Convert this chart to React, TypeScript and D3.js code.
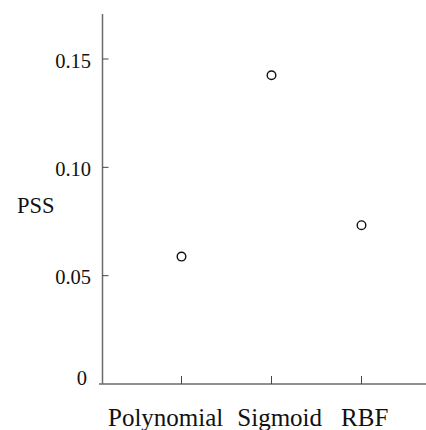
import React from 'react';
import * as d3 from 'd3';

const categories = ['Polynomial', 'Sigmoid', 'RBF'];
const pssValues = [0.0588, 0.1425, 0.0733];
const yTicks = [0, 0.05, 0.1, 0.15];
const yTickLabels = ['0', '0.05', '0.10', '0.15'];
const yLabel = 'PSS';

const serif = "'Liberation Serif', 'Times New Roman', Times, serif";

const App = () => {
  const width = 426;
  const height = 430;
  const axisX = 102.5;
  const baseY = 384;

  const y = d3.scaleLinear().domain([0, 0.15]).range([baseY, 59]);
  const x = d3.scalePoint<string>().domain(categories).range([181.5, 361.5]);

  // gaps between category names along the bottom line
  const labelGaps = [0, 14, 19];

  return (
    <svg width={width} height={height} style={{ position: 'absolute', left: 0, top: 0 }}>
      <rect width={width} height={height} fill="#fff" />
      {/* y axis */}
      <line x1={axisX} x2={axisX} y1={y(0.1708)} y2={baseY} stroke="#6b6b6b" strokeWidth={1.5} />
      {/* x axis */}
      <line x1={99} x2={width} y1={baseY} y2={baseY} stroke="#6b6b6b" strokeWidth={1.5} />

      {yTicks.map((t, i) => (
        <g key={t}>
          {t > 0 && <line x1={axisX} x2={axisX + 6} y1={y(t)} y2={y(t)} stroke="#444" strokeWidth={1} />}
          <text
            x={t === 0 ? 87 : 91}
            y={y(t) + (t === 0 ? -4 : 4)}
            textAnchor="end"
            dominantBaseline="middle"
            fontSize={20.5}
            fontFamily={serif}
            fill="#111"
          >
            {yTickLabels[i]}
          </text>
        </g>
      ))}

      {categories.map((c) => (
        <line key={c} x1={x(c)} x2={x(c)} y1={baseY} y2={baseY - 8} stroke="#444" strokeWidth={1} />
      ))}

      <text x={108} y={426} fontSize={25} fontFamily={serif} fill="#111">
        {categories.map((c, i) => (
          <tspan key={c} dx={labelGaps[i]}>
            {c}
          </tspan>
        ))}
      </text>

      <text x={17} y={208} dominantBaseline="middle" fontSize={22.5} fontFamily={serif} fill="#111">
        {yLabel}
      </text>

      {pssValues.map((v, i) => (
        <circle
          key={categories[i]}
          cx={x(categories[i])}
          cy={y(v)}
          r={4.3}
          fill="#fff"
          stroke="#111"
          strokeWidth={1.4}
        />
      ))}
    </svg>
  );
};

export default App;
